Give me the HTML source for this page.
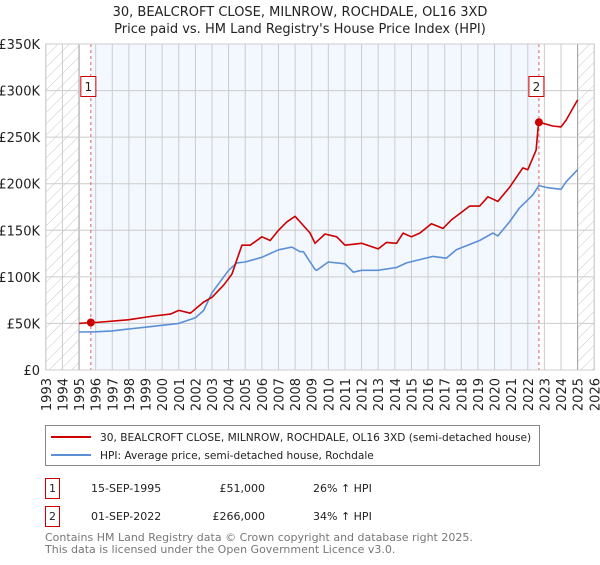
<!DOCTYPE html>
<html><head><meta charset="utf-8"><style>
body{margin:0;background:#fff;}
svg text{font-family:"DejaVu Sans","Liberation Sans",sans-serif;}
</style></head><body>
<svg id="chart" width="600" height="560" viewBox="0 0 600 560" xmlns="http://www.w3.org/2000/svg">
<defs>
<pattern id="hatch" patternUnits="userSpaceOnUse" width="8" height="8" patternTransform="rotate(45)">
<line x1="0" y1="0" x2="0" y2="8" stroke="#c8c8c8" stroke-width="1"/>
</pattern>
</defs>
<text x="300" y="16" text-anchor="middle" font-size="13" fill="#222">30, BEALCROFT CLOSE, MILNROW, ROCHDALE, OL16 3XD</text>
<text x="300" y="33" text-anchor="middle" font-size="13" fill="#222">Price paid vs. HM Land Registry's House Price Index (HPI)</text>
<g id="plot"></g>
<g>
<rect x="45.5" y="425.5" width="494" height="40" fill="#fff" stroke="#888"/>
<line x1="51" y1="437" x2="91" y2="437" stroke="#cc0000" stroke-width="2"/>
<text x="100" y="441" font-size="10.6" fill="#222">30, BEALCROFT CLOSE, MILNROW, ROCHDALE, OL16 3XD (semi-detached house)</text>
<line x1="51" y1="455" x2="91" y2="455" stroke="#5b8fd6" stroke-width="2"/>
<text x="100" y="459" font-size="10.6" fill="#222">HPI: Average price, semi-detached house, Rochdale</text>
</g>
<g font-size="11" fill="#222">
<rect x="45.5" y="478.5" width="14" height="20" fill="#fff" stroke="#cc0000"/>
<text x="52.5" y="492" text-anchor="middle">1</text>
<text x="91" y="492">15-SEP-1995</text>
<text x="265" y="492" text-anchor="end">£51,000</text>
<text x="313" y="492">26% ↑ HPI</text>
<rect x="45.5" y="506.5" width="14" height="20" fill="#fff" stroke="#cc0000"/>
<text x="52.5" y="520" text-anchor="middle">2</text>
<text x="91" y="520">01-SEP-2022</text>
<text x="265" y="520" text-anchor="end">£266,000</text>
<text x="313" y="520">34% ↑ HPI</text>
</g>
<text x="45" y="541" font-size="11" fill="#777">Contains HM Land Registry data © Crown copyright and database right 2025.</text>
<text x="45" y="553" font-size="11" fill="#777">This data is licensed under the Open Government Licence v3.0.</text>
</svg>
<script>
const hpiYears=[1995.0,1996,1997,1998,1999,2000,2001,2002,2002.5,2003,2004,2004.5,2005,2006,2007,2007.8,2008.3,2008.5,2009.2,2009.3,2010,2011,2011.5,2012,2013,2014.1,2014.7,2016.3,2017.1,2017.7,2019.1,2019.9,2020.2,2020.9,2021.5,2022.3,2022.67,2023.1,2024.0,2024.3,2025.0];
const hpiValues=[40800,41000,42000,44000,46000,48000,50000,56000,64000,83000,107000,115000,116000,121000,129000,132000,127000,127000,108000,107000,116000,114000,105000,107000,107000,110000,115000,122000,120000,129000,139000,147000,144000,159000,174000,188000,198000,196000,194000,202000,215000];
const paidYears=[1995.0,1995.7,1996,1998,1999.5,2000.5,2001,2001.7,2002.5,2003,2003.7,2004.2,2004.8,2005.3,2006,2006.5,2007,2007.5,2008,2008.3,2008.9,2009.2,2009.8,2010.5,2011,2012,2013,2013.5,2014.1,2014.5,2015,2015.5,2016.2,2016.9,2017.4,2018.5,2019.1,2019.6,2020.2,2020.9,2021.7,2022.0,2022.5,2022.62,2022.67,2023.5,2024.0,2024.3,2025.0];
const paidValues=[50000,51000,51000,54000,58000,60000,64000,61000,73000,78000,91000,103000,134000,134000,143000,139000,150000,159000,165000,159000,147000,136000,146000,143000,134000,136000,130000,137000,136000,147000,143000,147000,157000,152000,161000,176000,176000,186000,181000,196000,217000,215000,236000,260000,266000,262000,261000,268000,290000];
const saleYears=[1995.71,2022.67];
const saleValues=[51000,266000];
const saleLabels=["1","2"];
const yTicks=[0,50000,100000,150000,200000,250000,300000,350000];
const yTickLabels=["£0","£50K","£100K","£150K","£200K","£250K","£300K","£350K"];
const xTickYears=[1993,1994,1995,1996,1997,1998,1999,2000,2001,2002,2003,2004,2005,2006,2007,2008,2009,2010,2011,2012,2013,2014,2015,2016,2017,2018,2019,2020,2021,2022,2023,2024,2025,2026];

const X0=45.8,PX=16.62,Y0=370,YT=44;
const xs=y=>X0+(y-1993)*PX;
const ys=v=>Y0-(v/350000)*(Y0-YT);
const NS="http://www.w3.org/2000/svg";
const g=document.getElementById('plot');
function mk(t,a,p){const e=document.createElementNS(NS,t);for(const k in a)e.setAttribute(k,a[k]);(p||g).appendChild(e);return e;}

let r=mk('rect',{x:xs(1993),y:YT,width:xs(2026)-xs(1993),height:Y0-YT,fill:'#fff'});


r=mk('rect',{x:xs(saleYears[0]),y:YT,width:xs(saleYears[1])-xs(saleYears[0]),height:Y0-YT,fill:'#f3f7fe'});


r=mk('rect',{x:xs(1993),y:YT,width:xs(1995)-xs(1993),height:Y0-YT,fill:'url(#hatch)'});


r=mk('rect',{x:xs(2025),y:YT,width:xs(2026)-xs(2025),height:Y0-YT,fill:'url(#hatch)'});



xTickYears.forEach((yr)=>{
  const l=mk('line',{x1:xs(yr),x2:xs(yr),y1:YT,y2:Y0,stroke:(yr===1995||yr===2025)?'#999':'#cccccc','stroke-width':1});
  
  
  const t=mk('text',{x:0,y:0,'font-size':13,fill:'#222','text-anchor':'end',transform:`translate(${xs(yr)+5},${378}) rotate(-90)`});
  t.textContent=yr;
  
  
});
yTicks.forEach((v,i)=>{
  const l=mk('line',{x1:xs(1993),x2:xs(2026),y1:ys(v),y2:ys(v),stroke:'#cccccc','stroke-width':1});
  
  
  const t=mk('text',{x:40,y:ys(v)+5,'font-size':13,fill:'#222','text-anchor':'end'});
  t.textContent=yTickLabels[i];
  
  
});
saleYears.forEach((yr)=>{
  const l=mk('line',{x1:xs(yr),x2:xs(yr),y1:YT,y2:Y0,stroke:'#e06060','stroke-width':1,'stroke-dasharray':'3,3'});
  
  
});
function path(xa,va,color,name){
  const d=xa.map((y,i)=>(i?'L':'M')+xs(y).toFixed(1)+','+ys(va[i]).toFixed(1)).join('');
  const p=mk('path',{d:d,fill:'none',stroke:color,'stroke-width':1.6,'stroke-linejoin':'round'});
  
  
}
path(hpiYears,hpiValues,'#5b8fd6','hpi-line');
path(paidYears,paidValues,'#cc0000','price-paid-line');
saleYears.forEach((yr,i)=>{
  const c=mk('circle',{cx:xs(yr),cy:ys(saleValues[i]),r:4,fill:'#cc0000'});
  
  
  const bx=xs(yr)-10;
  const b=mk('rect',{x:bx,y:76.5,width:15,height:20,fill:'#fff',stroke:'#cc0000'});
  
  
  const t=mk('text',{x:bx+7.5,y:91,'font-size':12,fill:'#222','text-anchor':'middle'});
  t.textContent=saleLabels[i];
  
  
});
const ax=mk('rect',{x:xs(1993),y:YT,width:xs(2026)-xs(1993),height:Y0-YT,fill:'none',stroke:'#cccccc'});


</script>
</body></html>
